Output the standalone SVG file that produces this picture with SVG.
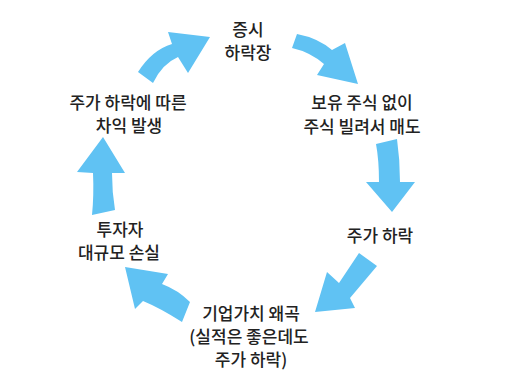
<svg xmlns="http://www.w3.org/2000/svg" width="505" height="391" viewBox="0 0 505 391">
<style>
.arr{fill:#60c2f3}
text{font-family:"Noto Sans CJK KR","Noto Sans",sans-serif;font-size:17px;fill:#222;text-anchor:middle;font-weight:500}
</style>
<rect width="505" height="391" fill="#fff"/>
<g id="connectors">
<path class="arr" d="M138,72 Q152,50 172,44 L168,32 L210,37 L188,73 L178,57 Q162,64 153,83 Z"/>
<path class="arr" d="M297,34 Q318,38 332,50 L345,43 L358,84 L317,75 L324,64 Q310,52 292,48 Z"/>
<path class="arr" d="M376,144 L397,139 Q400,160 400,182 L415,182 L392,212 L366,182 L379,182 Q379,160 376,144 Z"/>
<path class="arr" d="M359,253 L377,266 L350,298 L355,308 L315,312 L327,272 L339,283 Z"/>
<path class="arr" d="M190,302 L182,322 Q160,308 143,301 L135,309 L125,267 L168,274 L162,284 Q178,290 190,302 Z"/>
<path class="arr" d="M115,210 L92,215 Q94,195 93,173 L77,172 L103,137 L125,173 L112,173 Q112,192 115,210 Z"/>
</g>
<g id="n-market"><text x="248" y="36">증시</text><text x="248" y="59">하락장</text></g>
<g id="n-short"><text x="362" y="109">보유 주식 없이</text><text x="362" y="133">주식 빌려서 매도</text></g>
<g id="n-price"><text x="380" y="242">주가 하락</text></g>
<g id="n-value"><text x="251" y="320">기업가치 왜곡</text><text x="249" y="343">(실적은 좋은데도</text><text x="251" y="366">주가 하락)</text></g>
<g id="n-loss"><text x="120" y="236">투자자</text><text x="119" y="259">대규모 손실</text></g>
<g id="n-profit"><text x="128" y="109">주가 하락에 따른</text><text x="129" y="132">차익 발생</text></g>
</svg>
